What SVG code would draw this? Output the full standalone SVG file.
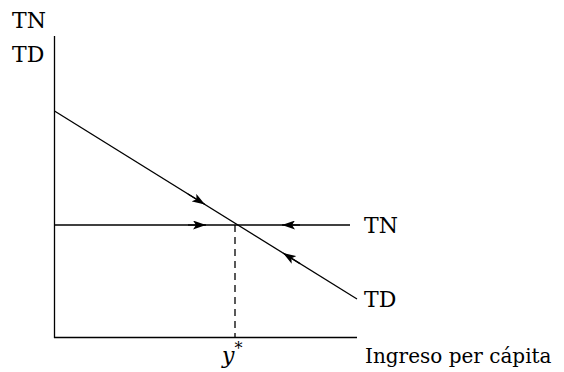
<svg xmlns="http://www.w3.org/2000/svg" width="564" height="372" viewBox="0 0 564 372">
<defs>
<marker id="ah" viewBox="0 0 13 9" refX="13" refY="4.5" markerWidth="13" markerHeight="9" markerUnits="userSpaceOnUse" orient="auto"><path d="M0,0 L13,4.5 L0,9 L3,4.5 Z" fill="#000"/></marker>
</defs>
<style>
.ln{stroke:#000;stroke-width:1.3;fill:none}
.t{font-family:"DejaVu Serif","Liberation Serif",serif;font-size:22px;fill:#000}
.s{font-size:20px}
</style>
<rect width="564" height="372" fill="#fff"/>
<g id="axes">
<line class="ln" x1="54.5" y1="36" x2="54.5" y2="338"/>
<line class="ln" x1="54" y1="337.5" x2="357" y2="337.5"/>
</g>
<g id="connectors">
<line class="ln" x1="54.5" y1="111" x2="357" y2="299"/>
<line class="ln" x1="54.5" y1="225" x2="350" y2="225"/>
<line class="ln" stroke-dasharray="7,5" x1="235" y1="225" x2="235" y2="337"/>
<line class="ln" x1="188" y1="194" x2="205" y2="204.5" marker-end="url(#ah)"/>
<line class="ln" x1="188" y1="225" x2="206" y2="225" marker-end="url(#ah)"/>
<line class="ln" x1="300" y1="225" x2="282" y2="225" marker-end="url(#ah)"/>
<line class="ln" x1="300" y1="263.6" x2="283" y2="253" marker-end="url(#ah)"/>
</g>
<g id="labels">
<text class="t" x="12" y="28">TN</text>
<text class="t" x="12" y="62">TD</text>
<text class="t" x="364" y="233">TN</text>
<text class="t" x="364" y="307">TD</text>
<text class="t" x="222" y="363" font-style="italic">y<tspan dy="-9" font-size="16" font-style="normal">*</tspan></text>
<text class="t s" x="365" y="363">Ingreso per cápita</text>
</g>
</svg>
